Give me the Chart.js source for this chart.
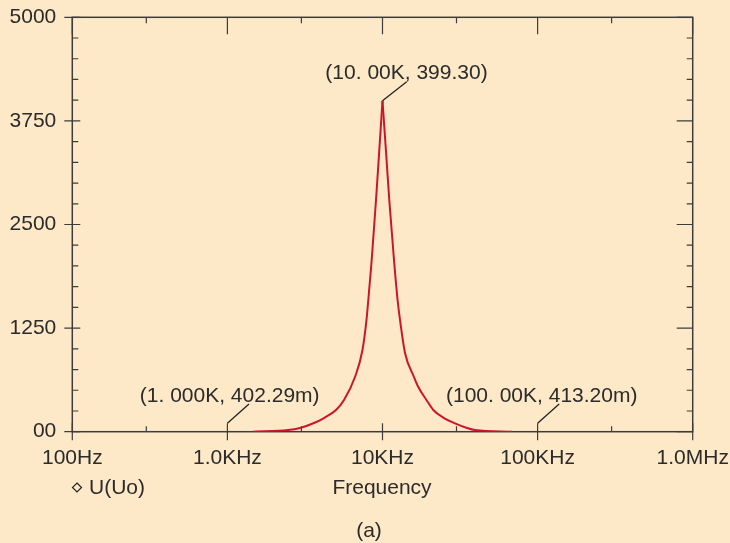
<!DOCTYPE html>
<html>
<head>
<meta charset="utf-8">
<script src="https://cdn.jsdelivr.net/npm/chart.js@4.4.0/dist/chart.umd.min.js"></script>
<style>
  html, body { margin: 0; padding: 0; background: #fde9c8; }
  canvas { display: block; }
</style>
</head>
<body>
<canvas id="chart" width="730" height="543"></canvas>
<script>
// curve: frequency (Hz) and plotted value
const freqs = [1460, 2460, 2938, 3617, 4196, 5013, 5647, 6647, 7430, 7886, 8100, 8519, 9081, 9520, 10000,
               10500, 11060, 11860, 12510, 12970, 13970, 15960, 17020, 19210, 21260, 24920, 29340, 35060, 39480, 68370];
const gain = [0, 20, 45, 105, 165, 262, 383, 660, 986, 1348, 1589, 2072, 2796, 3376, 3993,
              3418, 2796, 2072, 1589, 1348, 950, 660, 539, 383, 262, 165, 101, 45, 20, 0];

const xTicks = [100, 1000, 10000, 100000, 1000000];
const xTickNames = ["100Hz", "1.0KHz", "10KHz", "100KHz", "1.0MHz"];
const xMinor = [300, 3000, 30000, 300000];
const yTicks = [0, 1250, 2500, 3750, 5000];
const yTickNames = ["00", "1250", "2500", "3750", "5000"];

// cursor marks
const markFreqs = [1000, 10000, 100000];
const markValues = [0.40229, 3993, 0.4132];
const markLabels = ["(1. 000K, 402.29m)", "(10. 00K, 399.30)", "(100. 00K, 413.20m)"];

const FAMILY = '"Liberation Sans", Arial, sans-serif';
const FONT = '21px ' + FAMILY;
const INK = "#2b2b2b";
const AXIS = "#3d3d3d";
const RED = "#cf1428";

// split at the peak so the top stays sharp
const peakIdx = gain.indexOf(Math.max(...gain));
function pts(a, b) {
  let out = [];
  for (let i = a; i <= b; i++) out.push({ x: freqs[i], y: gain[i] });
  return out;
}

// leader/label placement per mark (pixels)
const markStyle = [
  { rise: 8.5, dx: 21.6, dy: -27.7, tx: 2.3, ty: -35.7 },
  { rise: 0, dx: 24.2, dy: -19, tx: 24, ty: -27.5 },
  { rise: 8.5, dx: 21.6, dy: -27.7, tx: 4.1, ty: -35.7 }
];

const framePlugin = {
  id: "frame",
  beforeDatasetsDraw(chart) {
    const ctx = chart.ctx;
    const a = chart.chartArea;
    const xs = chart.scales.x, ys = chart.scales.y;
    ctx.save();
    ctx.strokeStyle = AXIS;
    ctx.lineWidth = 1.5;
    ctx.strokeRect(a.left, a.top, a.right - a.left, a.bottom - a.top);
    ctx.lineWidth = 1.2;
    ctx.beginPath();
    xTicks.forEach(v => {
      const px = xs.getPixelForValue(v);
      ctx.moveTo(px, a.bottom - 8.5); ctx.lineTo(px, a.bottom + 8.5);
      ctx.moveTo(px, a.top); ctx.lineTo(px, a.top + 17);
    });
    xMinor.forEach(v => {
      const px = xs.getPixelForValue(v);
      ctx.moveTo(px, a.bottom); ctx.lineTo(px, a.bottom - 5.5);
      ctx.moveTo(px, a.top); ctx.lineTo(px, a.top + 6);
    });
    for (let v = 0; v <= 5000; v += 250) {
      const py = ys.getPixelForValue(v);
      if (v % 1250 === 0) {
        ctx.moveTo(a.left - 8, py); ctx.lineTo(a.left + 8, py);
        ctx.moveTo(a.right - 16, py); ctx.lineTo(a.right, py);
      } else {
        ctx.moveTo(a.left, py); ctx.lineTo(a.left + 6, py);
        ctx.moveTo(a.right - 6, py); ctx.lineTo(a.right, py);
      }
    }
    ctx.stroke();
    ctx.restore();
  },
  afterDraw(chart) {
    const ctx = chart.ctx;
    const xs = chart.scales.x, ys = chart.scales.y;
    ctx.save();
    ctx.font = FONT;
    ctx.fillStyle = INK;
    ctx.strokeStyle = "#222";
    ctx.lineWidth = 1.3;
    ctx.textAlign = "center";
    ctx.textBaseline = "middle";
    markFreqs.forEach((f, i) => {
      const px = xs.getPixelForValue(f);
      const py = ys.getPixelForValue(markValues[i]);
      const s = markStyle[i];
      ctx.beginPath();
      ctx.moveTo(px, py - s.rise);
      ctx.lineTo(px + s.dx, py + s.dy);
      ctx.stroke();
      ctx.fillText(markLabels[i], px + s.tx, py + s.ty);
    });

    // legend entry
    ctx.lineWidth = 1.2;
    ctx.beginPath();
    ctx.moveTo(77, 483); ctx.lineTo(81.5, 487.5); ctx.lineTo(77, 492); ctx.lineTo(72.5, 487.5);
    ctx.closePath();
    ctx.stroke();
    ctx.textAlign = "left";
    ctx.fillText("U(Uo)", 89, 488);

    ctx.textAlign = "center";
    ctx.fillText("Frequency", 382, 488);
    ctx.fillText("(a)", 369, 531);
    ctx.restore();
  }
};

const lineStyle = {
  borderColor: RED,
  borderWidth: 2,
  pointRadius: 0,
  fill: false,
  cubicInterpolationMode: "monotone"
};

new Chart(document.getElementById("chart"), {
  type: "line",
  data: {
    datasets: [
      Object.assign({ label: "U(Uo)", data: pts(0, peakIdx) }, lineStyle),
      Object.assign({ label: "U(Uo) hi", data: pts(peakIdx, freqs.length - 1) }, lineStyle)
    ]
  },
  options: {
    responsive: false,
    animation: false,
    events: [],
    layout: { padding: { left: 0, right: 37.3, top: 17.3, bottom: 0 } },
    plugins: { legend: { display: false }, tooltip: { enabled: false } },
    scales: {
      x: {
        type: "logarithmic",
        min: 100,
        max: 1000000,
        afterBuildTicks: s => { s.ticks = xTicks.map(v => ({ value: v })); },
        afterFit: s => { s.height = 111.3; s.paddingLeft = 0; s.paddingRight = 0; },
        grid: { display: false, drawTicks: false },
        border: { display: false },
        ticks: {
          autoSkip: false,
          maxRotation: 0,
          padding: 14,
          color: INK,
          font: { family: FAMILY, size: 21 },
          callback: (v, i) => xTickNames[i]
        }
      },
      y: {
        min: 0,
        max: 5000,
        afterBuildTicks: s => { s.ticks = yTicks.map(v => ({ value: v })); },
        afterFit: s => { s.width = 72.3; s.paddingTop = 0; s.paddingBottom = 0; },
        grid: { display: false, drawTicks: false },
        border: { display: false },
        ticks: {
          padding: 16,
          color: INK,
          font: { family: FAMILY, size: 21 },
          callback: (v, i) => yTickNames[i]
        }
      }
    }
  },
  plugins: [framePlugin]
});
</script>
</body>
</html>
